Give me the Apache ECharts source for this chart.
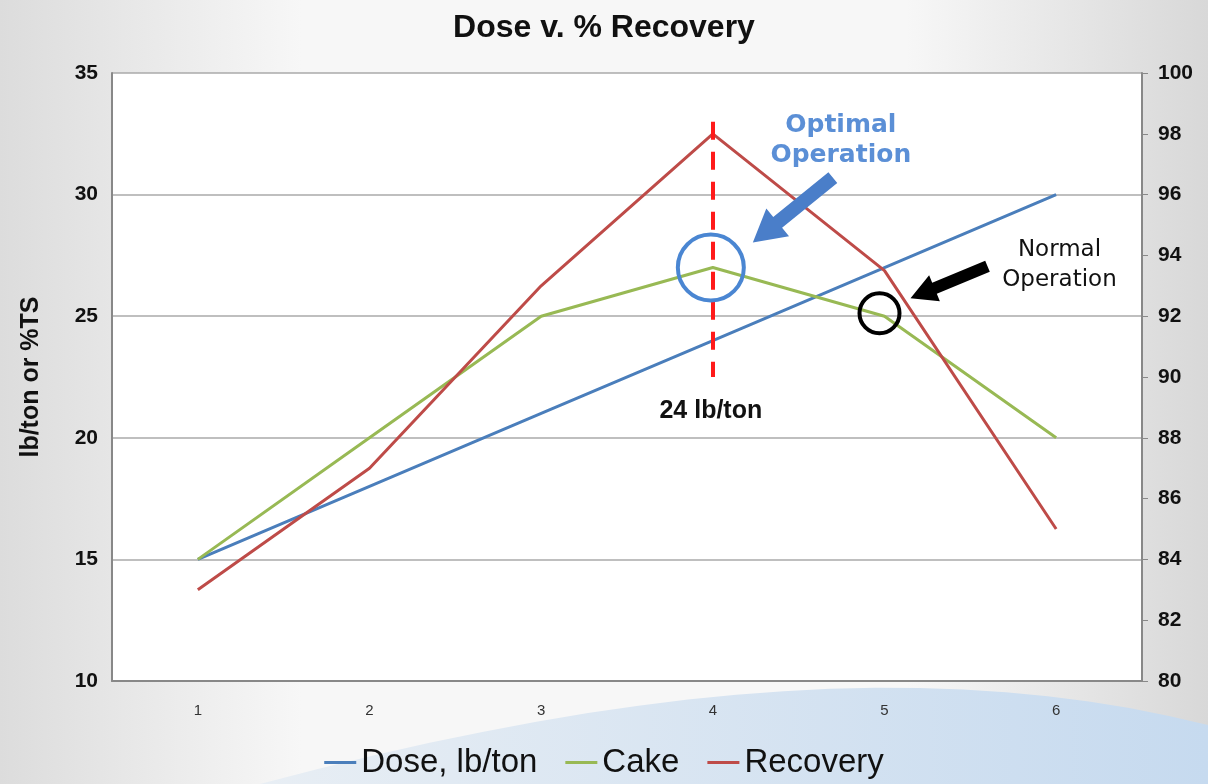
<!DOCTYPE html>
<html>
<head>
<meta charset="utf-8">
<title>Dose v. % Recovery</title>
<script type="text/javascript" src="https://cdn.jsdelivr.net/npm/echarts@6/dist/echarts.min.js"></script>
<style>
html, body { margin: 0; padding: 0; }
#main { width: 1208px; height: 784px; }
</style>
</head>
<body>
<div id="main"></div>
<script type="text/javascript">
    var categories = ['1', '2', '3', '4', '5', '6'];
    var dose = [15, 18, 21, 24, 27, 30];       // lb/ton, left axis
    var cake = [15, 20, 25, 27, 25, 20];       // %TS, left axis
    var recovery = [83, 87, 93, 98, 93.5, 85]; // %, right axis
    var leftTicks = { min: 10, max: 35, interval: 5 };
    var rightTicks = { min: 80, max: 100, interval: 2 };

    var font = "'Liberation Sans Narrow', 'Liberation Sans', Arial, sans-serif";

    var option = {
        backgroundColor: {
            type: 'linear', x: 0, y: 0, x2: 1, y2: 0,
            colorStops: [{ offset: 0, color: '#dcdcdc' }, { offset: 0.25, color: '#f7f7f7' },
                         { offset: 0.75, color: '#f7f7f7' }, { offset: 1, color: '#d8d8d8' }]
        },
        animation: false,
        title: {
            text: 'Dose v. % Recovery',
            left: 'center',
            top: 7,
            textStyle: { fontFamily: font, fontSize: 32, fontWeight: 'bold', color: '#111' }
        },
        legend: {
            bottom: 0,
            left: 'center',
            itemWidth: 32,
            itemHeight: 3,
            itemGap: 28,
            icon: 'rect',
            textStyle: { fontFamily: font, fontSize: 33, color: '#111' }
        },
        grid: { left: 112, right: 66, top: 73, bottom: 103, show: true, backgroundColor: '#fff', borderWidth: 0 },
        xAxis: {
            type: 'category',
            data: categories,
            axisLine: { lineStyle: { color: '#888', width: 2 } },
            axisTick: { show: false },
            axisLabel: { margin: 22, fontFamily: font, fontSize: 15, color: '#333' }
        },
        yAxis: [{
            type: 'value',
            min: leftTicks.min, max: leftTicks.max, interval: leftTicks.interval,
            name: 'lb/ton or %TS',
            nameLocation: 'middle',
            nameGap: 68,
            nameTextStyle: { fontFamily: font, fontSize: 25, fontWeight: 'bold', color: '#111' },
            axisLine: { show: true, lineStyle: { color: '#888', width: 2 } },
            axisTick: { show: false },
            axisLabel: { margin: 14, fontFamily: font, fontSize: 21, fontWeight: 'bold', color: '#111' },
            splitLine: { lineStyle: { color: '#aaa', width: 1.5 } }
        }, {
            type: 'value',
            min: rightTicks.min, max: rightTicks.max, interval: rightTicks.interval,
            axisLine: { show: true, lineStyle: { color: '#888', width: 2 } },
            axisTick: { show: true, length: 6, lineStyle: { color: '#888' } },
            axisLabel: { margin: 16, fontFamily: font, fontSize: 21, fontWeight: 'bold', color: '#111' },
            splitLine: { show: false }
        }],
        series: [{
            name: 'Dose, lb/ton',
            type: 'line',
            data: dose,
            symbol: 'none',
            color: '#4a7ebb',
            lineStyle: { width: 3 },
            z: 3
        }, {
            name: 'Cake',
            type: 'line',
            data: cake,
            symbol: 'none',
            color: '#98b954',
            lineStyle: { width: 3 },
            z: 3
        }, {
            name: 'Recovery',
            type: 'line',
            yAxisIndex: 1,
            data: recovery,
            symbol: 'none',
            color: '#be4b48',
            lineStyle: { width: 3 },
            z: 3,
            markLine: {
                silent: true,
                symbol: 'none',
                lineStyle: { color: '#ff1a1a', type: [18, 12], width: 4 },
                label: { show: false },
                data: [[{ coord: ['4', 98.4] }, { coord: ['4', 90] }]]
            }
        }]
    };

    var chart = echarts.init(document.getElementById('main'));
    chart.setOption(option);

    // annotations placed from the chart's own coordinate conversion
    var optimal = chart.convertToPixel({ xAxisIndex: 0, yAxisIndex: 0 }, ['4', 27]);
    var normal = chart.convertToPixel({ xAxisIndex: 0, yAxisIndex: 0 }, ['5', 25]);
    var lineBottom = chart.convertToPixel({ xAxisIndex: 0, yAxisIndex: 1 }, ['4', 90]);

    function arrow(x1, y1, x2, y2, shaft, head, headLen, color) {
        var dx = x2 - x1, dy = y2 - y1, len = Math.sqrt(dx * dx + dy * dy);
        var ux = dx / len, uy = dy / len, px = -uy, py = ux;
        var bx = x2 - ux * headLen, by = y2 - uy * headLen;
        return {
            type: 'polygon', z: 100,
            shape: { points: [
                [x1 + px * shaft, y1 + py * shaft], [bx + px * shaft, by + py * shaft],
                [bx + px * head, by + py * head], [x2, y2],
                [bx - px * head, by - py * head], [bx - px * shaft, by - py * shaft],
                [x1 - px * shaft, y1 - py * shaft]] },
            style: { fill: color }
        };
    }

    // decorative slide wave at the bottom right
    var wave = [];
    var p0 = [260, 784], p1 = [650, 680], p2 = [950, 660], p3 = [1208, 725];
    for (var t = 0; t <= 1.0001; t += 0.05) {
        var a = (1 - t) * (1 - t) * (1 - t), b = 3 * (1 - t) * (1 - t) * t, c = 3 * (1 - t) * t * t, d = t * t * t;
        wave.push([a * p0[0] + b * p1[0] + c * p2[0] + d * p3[0], a * p0[1] + b * p1[1] + c * p2[1] + d * p3[1]]);
    }
    wave.push([1208, 784]);

    chart.setOption({
        graphic: [{
            type: 'polygon', z: -1, silent: true,
            shape: { points: wave },
            style: { fill: { type: 'linear', x: 0, y: 0, x2: 1, y2: 0,
                colorStops: [{ offset: 0, color: '#e8eef4' }, { offset: 1, color: '#c6daef' }] } }
        }, {
            type: 'circle', z: 100,
            shape: { cx: optimal[0] - 2, cy: optimal[1], r: 33 },
            style: { fill: 'none', stroke: '#4a86d2', lineWidth: 4 }
        }, {
            type: 'circle', z: 100,
            shape: { cx: normal[0] - 5, cy: normal[1] - 3, r: 20 },
            style: { fill: 'none', stroke: '#000', lineWidth: 4 }
        },
        arrow(optimal[0] + 120, optimal[1] - 90, optimal[0] + 40, optimal[1] - 25, 7, 18, 32, '#4a7ec9'),
        arrow(normal[0] + 103, normal[1] - 50, normal[0] + 26, normal[1] - 18, 6, 14, 26, '#000'),
        {
            type: 'text', z: 100,
            x: optimal[0] + 128, y: optimal[1] - 127,
            style: { text: 'Optimal\nOperation', align: 'center', verticalAlign: 'middle',
                font: "bold 25px 'DejaVu Sans', Verdana, sans-serif", fill: '#5b8fd6', lineHeight: 30 }
        }, {
            type: 'text', z: 100,
            x: normal[0] + 175, y: normal[1] - 51,
            style: { text: 'Normal\nOperation', align: 'center', verticalAlign: 'middle',
                font: "23px 'DejaVu Sans', Verdana, sans-serif", fill: '#111', lineHeight: 30 }
        }, {
            type: 'text', z: 100,
            x: lineBottom[0] - 2, y: lineBottom[1] + 34,
            style: { text: '24 lb/ton', align: 'center', verticalAlign: 'middle',
                font: "bold 25px 'Liberation Sans', Arial, sans-serif", fill: '#111' }
        }]
    });
</script>
</body>
</html>
